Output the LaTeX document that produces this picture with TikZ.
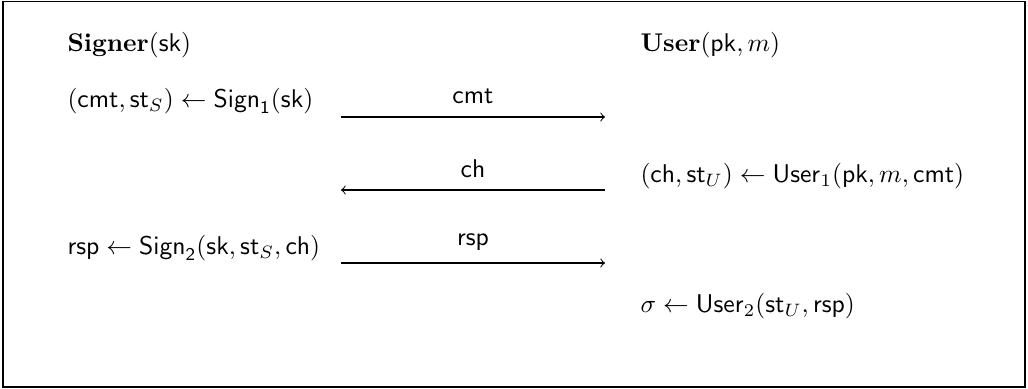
\documentclass[tikz,border=0pt]{standalone}
\usepackage{amsmath}
\newcommand{\alg}[1]{\mathsf{#1}}
\begin{document}
\begin{tikzpicture}[x=0.39pt,y=-0.39pt,
  txt/.style={anchor=west,inner sep=0pt},
  lbl/.style={inner sep=0pt},
  msg/.style={line width=0.4pt}]
\useasboundingbox (0,0) rectangle (1028,389);
\draw[line width=0.5pt] (3,1.5) rectangle (1025,387);
% party headers
\node[txt] (signer) at (67,45) {$\textbf{Signer}(\alg{sk})$};
\node[txt] (user) at (640,45) {$\textbf{User}(\alg{pk},m)$};
% signer side
\node[txt] (s1) at (67,101) {$(\alg{cmt},\alg{st}_S)\leftarrow\alg{Sign}_{\alg{1}}(\alg{sk})$};
\node[txt] (s2) at (67,248) {$\alg{rsp}\leftarrow\alg{Sign}_{\alg{2}}(\alg{sk},\alg{st}_S,\alg{ch})$};
% user side
\node[txt] (u1) at (640,176) {$(\alg{ch},\alg{st}_U)\leftarrow\alg{User}_1(\alg{pk},m,\alg{cmt})$};
\node[txt] (u2) at (640,306) {$\sigma\leftarrow\alg{User}_2(\alg{st}_U,\alg{rsp})$};
% message endpoints
\coordinate (a1) at (341,117); \coordinate (b1) at (605,117);
\coordinate (a2) at (341,190); \coordinate (b2) at (605,190);
\coordinate (a3) at (341,263); \coordinate (b3) at (605,263);
\draw[msg,->] (a1) -- (b1);
\draw[msg,->] (b2) -- (a2);
\draw[msg,->] (a3) -- (b3);
\node[lbl] (m1) at (473,96) {$\alg{cmt}$};
\node[lbl] (m2) at (473,169) {$\alg{ch}$};
\node[lbl] (m3) at (473,242) {$\alg{rsp}$};
\end{tikzpicture}
\end{document}
